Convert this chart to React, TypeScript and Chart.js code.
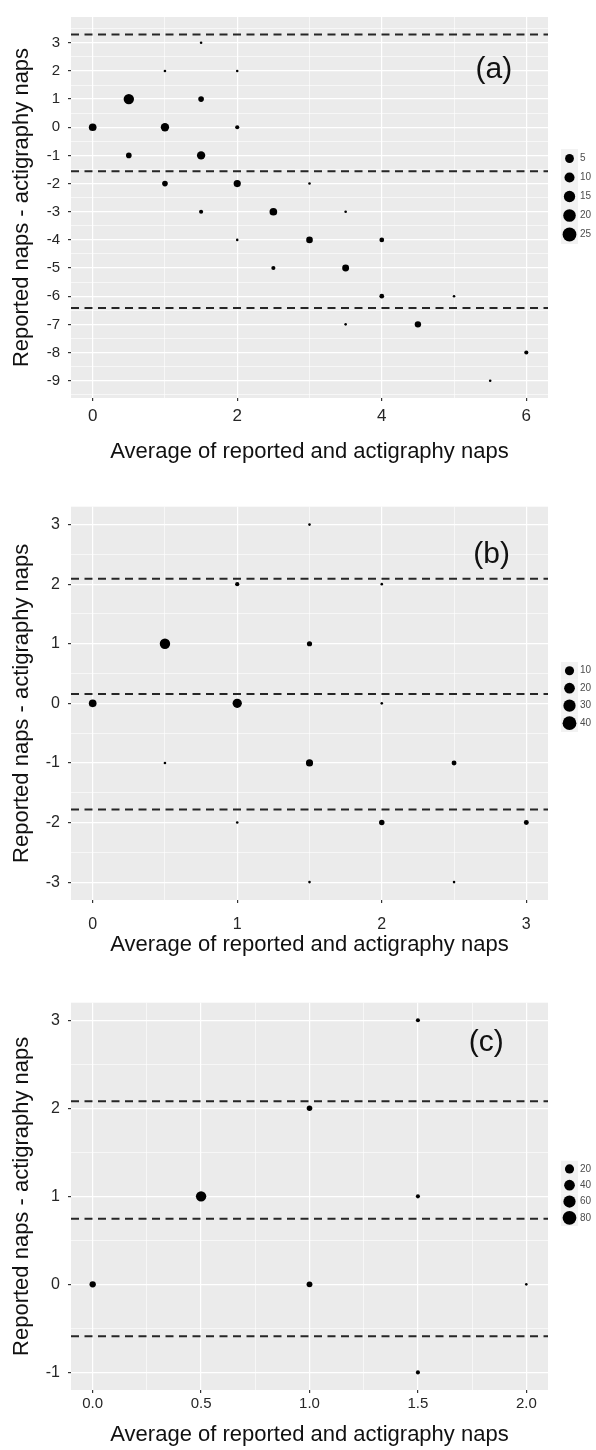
import React, { useEffect, useRef } from "react";
import { Chart, registerables } from "chart.js";

Chart.register(...registerables);

const FONT = "'Liberation Sans', Arial, sans-serif";
const X_TITLE = "Average of reported and actigraphy naps";
const Y_TITLE = "Reported naps - actigraphy naps";

// ---------- Panel (a) ----------
const aX = [0, 0.5, 0.5, 1, 1, 1, 1.5, 1.5, 1.5, 1.5, 2, 2, 2, 2, 2.5, 2.5, 3, 3, 3.5, 3.5, 3.5, 4, 4, 4.5, 5, 5.5, 6];
const aY = [0, 1, -1, 2, 0, -2, 3, 1, -1, -3, 2, 0, -2, -4, -3, -5, -2, -4, -3, -5, -7, -4, -6, -7, -6, -9, -8];
const aN = [12, 27, 5, 1, 15, 5, 1, 5, 15, 2, 1, 2, 10, 1, 12, 2, 1, 8, 1, 9, 1, 3, 3, 7, 1, 1, 2];
const aLines = [3.29, -1.56, -6.42];
const aLegend = [5, 10, 15, 20, 25];
const aXTicks = [0, 2, 4, 6];
const aXLabels = ["0", "2", "4", "6"];
const aYTicks = [3, 2, 1, 0, -1, -2, -3, -4, -5, -6, -7, -8, -9];
const aXRange = [-0.3, 6.3];
const aYRange = [-9.615, 3.915];
const aTag = ["(a)", 5.55, 2.05];

// ---------- Panel (b) ----------
const bX = [0, 0.5, 0.5, 1, 1, 1, 1.5, 1.5, 1.5, 1.5, 2, 2, 2, 2.5, 2.5, 3];
const bY = [0, 1, -1, 2, 0, -2, 3, 1, -1, -3, 2, 0, -2, -1, -3, -2];
const bN = [20, 45, 1, 3, 33, 1, 1, 6, 16, 1, 1, 1, 7, 5, 1, 5];
const bLines = [2.09, 0.155, -1.78];
const bLegend = [10, 20, 30, 40];
const bXTicks = [0, 1, 2, 3];
const bXLabels = ["0", "1", "2", "3"];
const bYTicks = [3, 2, 1, 0, -1, -2, -3];
const bXRange = [-0.15, 3.15];
const bYRange = [-3.3, 3.3];
const bTag = ["(b)", 2.76, 2.5];

// ---------- Panel (c) ----------
const cX = [0, 0.5, 1, 1, 1.5, 1.5, 1.5, 2];
const cY = [0, 1, 2, 0, 3, 1, -1, 0];
const cN = [20, 85, 13, 16, 4, 4, 4, 1];
const cLines = [2.08, 0.745, -0.59];
const cLegend = [20, 40, 60, 80];
const cXTicks = [0, 0.5, 1, 1.5, 2];
const cXLabels = ["0.0", "0.5", "1.0", "1.5", "2.0"];
const cYTicks = [3, 2, 1, 0, -1];
const cXRange = [-0.1, 2.1];
const cYRange = [-1.2, 3.2];
const cTag = ["(c)", 1.815, 2.74];

type Panel = {
  xs: number[]; ys: number[]; ns: number[]; lines: number[]; legend: number[];
  xTicks: number[]; xLabels: string[]; yTicks: number[];
  xRange: number[]; yRange: number[]; tag: any[];
  top: number; h: number; chartTop: number; chartBottom: number;
  xTickFont: number; yTickFont: number; xTickPad: number; xTitlePad: number;
  legSpacing: number; legShift: number;
};

const panels: Panel[] = [
  {
    xs: aX, ys: aY, ns: aN, lines: aLines, legend: aLegend,
    xTicks: aXTicks, xLabels: aXLabels, yTicks: aYTicks,
    xRange: aXRange, yRange: aYRange, tag: aTag,
    top: 0, h: 470, chartTop: 8, chartBottom: 398,
    xTickFont: 17, yTickFont: 15, xTickPad: 5, xTitlePad: 5,
    legSpacing: 19, legShift: -11,
  },
  {
    xs: bX, ys: bY, ns: bN, lines: bLines, legend: bLegend,
    xTicks: bXTicks, xLabels: bXLabels, yTicks: bYTicks,
    xRange: bXRange, yRange: bYRange, tag: bTag,
    top: 470, h: 490, chartTop: 36.7, chartBottom: 430,
    xTickFont: 16, yTickFont: 16, xTickPad: 12, xTitlePad: 2,
    legSpacing: 17.5, legShift: -6.4,
  },
  {
    xs: cX, ys: cY, ns: cN, lines: cLines, legend: cLegend,
    xTicks: cXTicks, xLabels: cXLabels, yTicks: cYTicks,
    xRange: cXRange, yRange: cYRange, tag: cTag,
    top: 960, h: 490, chartTop: 42.7, chartBottom: 430,
    xTickFont: 15, yTickFont: 16, xTickPad: 1.5, xTitlePad: 2,
    legSpacing: 16.3, legShift: -3,
  },
];

function withMinor(major: number[], range: number[]): number[] {
  const sorted = [...major].sort((a, b) => a - b);
  const half = (sorted[1] - sorted[0]) / 2;
  const start = Math.ceil(range[0] / half - 1e-9);
  const out: number[] = [];
  for (let i = start; i * half <= range[1] + 1e-9; i++) out.push(Math.round(i * half * 1e6) / 1e6);
  return out;
}

const isIn = (list: number[], v: number) => list.some((m) => Math.abs(m - v) < 1e-6);

function PanelChart({ p }: { p: Panel }) {
  const ref = useRef<HTMLCanvasElement>(null);
  useEffect(() => {
    const canvas = ref.current!;
    const nMax = Math.max(...p.ns);
    const radius = p.ns.map((n) => 1.3 + 3.9 * Math.sqrt((n - 1) / (nMax - 1)));
    const xAll = withMinor(p.xTicks, p.xRange);
    const yAll = withMinor(p.yTicks, p.yRange);

    const gridFor = (major: number[]) => ({
      color: "#ffffff",
      lineWidth: (ctx: any) => (isIn(major, ctx.tick.value) ? 1.2 : 0.6),
      tickColor: (ctx: any) => (isIn(major, ctx.tick.value) ? "#333333" : "rgba(0,0,0,0)"),
      tickLength: 3,
      drawTicks: true,
    });

    const decor = {
      id: "decor",
      beforeDraw(chart: any) {
        const { ctx, chartArea: a } = chart;
        ctx.save();
        ctx.fillStyle = "#EBEBEB";
        ctx.fillRect(a.left, a.top, a.right - a.left, a.bottom - a.top);
        ctx.restore();
      },
      afterDatasetsDraw(chart: any) {
        const { ctx, chartArea: a, scales } = chart;
        ctx.save();
        ctx.beginPath();
        ctx.rect(a.left, a.top, a.right - a.left, a.bottom - a.top);
        ctx.clip();
        ctx.setLineDash([8, 5.5]);
        ctx.strokeStyle = "#262626";
        ctx.lineWidth = 2;
        ctx.beginPath();
        for (const v of p.lines) {
          const y = scales.y.getPixelForValue(v);
          ctx.moveTo(a.left, y);
          ctx.lineTo(a.right, y);
        }
        ctx.stroke();
        ctx.restore();
      },
      afterDraw(chart: any) {
        const { ctx, chartArea: a, scales } = chart;
        ctx.save();
        // panel tag
        ctx.font = `30px ${FONT}`;
        ctx.fillStyle = "#111111";
        ctx.textAlign = "center";
        ctx.textBaseline = "middle";
        ctx.fillText(p.tag[0], scales.x.getPixelForValue(p.tag[1]), scales.y.getPixelForValue(p.tag[2]));
        // size legend
        const lMax = Math.max(...p.legend);
        const mid = (a.top + a.bottom) / 2 + p.legShift;
        const cx = 569.5;
        p.legend.forEach((v, i) => {
          const y = mid + (i - (p.legend.length - 1) / 2) * p.legSpacing;
          ctx.fillStyle = "#F2F2F2";
          ctx.fillRect(cx - 8.5, y - p.legSpacing / 2, 17, p.legSpacing);
          ctx.fillStyle = "#000000";
          ctx.beginPath();
          ctx.arc(cx, y, 3.8 + 3.1 * (v / lMax), 0, Math.PI * 2);
          ctx.fill();
          ctx.fillStyle = "#4d4d4d";
          ctx.font = `10px ${FONT}`;
          ctx.textAlign = "left";
          ctx.textBaseline = "middle";
          ctx.fillText(String(v), 580, y);
        });
        ctx.restore();
      },
    };

    const chart = new Chart(canvas, {
      type: "scatter",
      data: {
        datasets: [
          {
            data: p.xs.map((x, i) => ({ x, y: p.ys[i] })),
            pointRadius: radius,
            pointHoverRadius: radius,
            backgroundColor: "#000000",
            borderWidth: 0,
          },
        ],
      },
      options: {
        animation: false,
        responsive: false,
        devicePixelRatio: 1,
        events: [],
        layout: { padding: { top: p.chartTop, right: 48, bottom: 0, left: 0 } },
        plugins: { legend: { display: false }, tooltip: { enabled: false } },
        scales: {
          x: {
            type: "linear",
            min: p.xRange[0],
            max: p.xRange[1],
            afterBuildTicks: (s: any) => {
              s.ticks = xAll.map((v) => ({ value: v }));
            },
            afterFit: (s: any) => {
              s.height = p.h - p.chartBottom;
            },
            ticks: {
              autoSkip: false,
              maxRotation: 0,
              padding: p.xTickPad,
              color: "#262626",
              font: { family: FONT, size: p.xTickFont },
              callback: (v: any) => {
                const i = p.xTicks.findIndex((m) => Math.abs(m - v) < 1e-6);
                return i >= 0 ? p.xLabels[i] : "";
              },
            },
            grid: gridFor(p.xTicks),
            border: { display: false },
            title: {
              display: true,
              text: X_TITLE,
              color: "#111111",
              font: { family: FONT, size: 22 },
              padding: { top: 0, bottom: p.xTitlePad },
            },
          },
          y: {
            type: "linear",
            min: p.yRange[0],
            max: p.yRange[1],
            afterBuildTicks: (s: any) => {
              s.ticks = yAll.map((v) => ({ value: v }));
            },
            afterFit: (s: any) => {
              s.width = 71;
            },
            ticks: {
              autoSkip: false,
              padding: 8,
              color: "#262626",
              font: { family: FONT, size: p.yTickFont },
              callback: (v: any) => (isIn(p.yTicks, v) ? String(Math.round(v)) : ""),
            },
            grid: gridFor(p.yTicks),
            border: { display: false },
            title: {
              display: true,
              text: Y_TITLE,
              color: "#111111",
              font: { family: FONT, size: 22 },
              padding: { top: 9, bottom: 0 },
            },
          },
        },
      },
      plugins: [decor],
    } as any);
    return () => chart.destroy();
  }, [p]);
  return (
    <canvas
      ref={ref}
      width={596}
      height={p.h}
      style={{ position: "absolute", left: 0, top: p.top, width: 596, height: p.h }}
    />
  );
}

export default function App() {
  return (
    <div style={{ position: "absolute", left: 0, top: 0, width: 596, height: 1450, background: "#ffffff" }}>
      {panels.map((p, i) => (
        <PanelChart key={i} p={p} />
      ))}
    </div>
  );
}
